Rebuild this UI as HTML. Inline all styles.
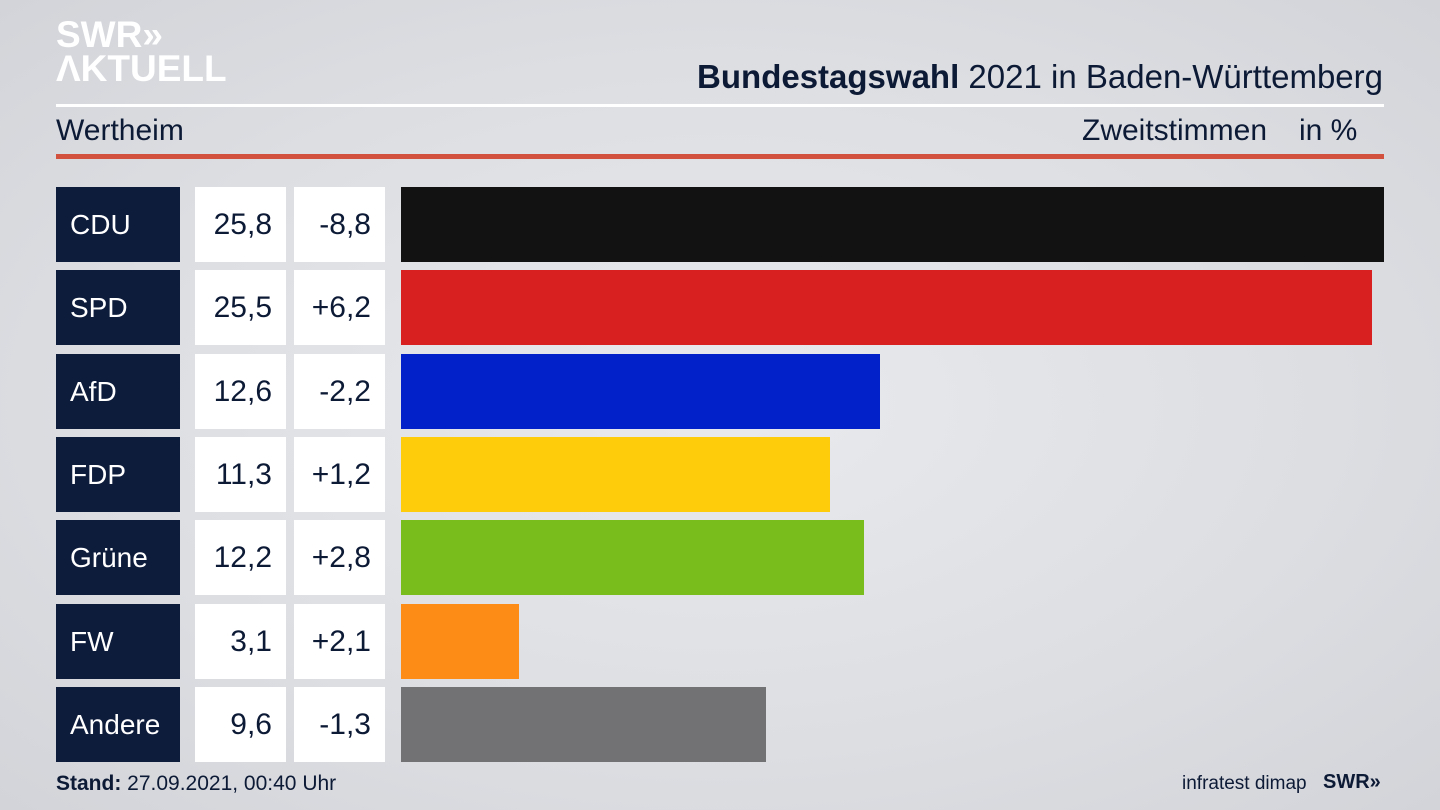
<!DOCTYPE html>
<html><head><meta charset="utf-8"><style>
body{margin:0;width:1440px;height:810px;overflow:hidden;position:relative;font-family:"Liberation Sans","DejaVu Sans",sans-serif;
background:radial-gradient(ellipse at 50% 50%,#e9eaed 0%,#dcdee2 60%,#d2d4d9 100%);color:#0d1a36}
.a{position:absolute}
.logo{color:#fff;font-weight:bold;font-size:37px;line-height:34px;letter-spacing:0px}
.p{background:#0e1c3c;color:#fff;font-size:28px;height:75px;line-height:75px;padding-left:14px;box-sizing:border-box;width:124px;left:56px}
.v{background:#fff;font-size:30px;height:75px;line-height:75px;text-align:right;box-sizing:border-box;padding-right:14px;color:#0d1a36}
.b{height:75px;left:401px}
</style></head><body>
<div class="a logo" style="left:56px;top:18px">SWR»<br>ΛKTUELL</div>
<div class="a" style="right:57px;top:58px;font-size:33px"><b>Bundestagswahl</b> 2021 in Baden-Württemberg</div>
<div class="a" style="left:56px;top:104px;width:1328px;height:3px;background:#fff"></div>
<div class="a" style="left:56px;top:114px;font-size:30px">Wertheim</div>
<div class="a" style="left:1082px;top:114px;font-size:30px">Zweitstimmen</div>
<div class="a" style="left:1299px;top:114px;font-size:30px">in %</div>
<div class="a" style="left:56px;top:154px;width:1328px;height:5px;background:#d2503e"></div>

<div class="a p" style="top:187px">CDU</div><div class="a v" style="top:187px;left:195px;width:91px">25,8</div><div class="a v" style="top:187px;left:294px;width:91px">-8,8</div><div class="a b" style="top:187px;width:983px;background:#121212"></div>
<div class="a p" style="top:270px">SPD</div><div class="a v" style="top:270px;left:195px;width:91px">25,5</div><div class="a v" style="top:270px;left:294px;width:91px">+6,2</div><div class="a b" style="top:270px;width:971px;background:#d92020"></div>
<div class="a p" style="top:354px">AfD</div><div class="a v" style="top:354px;left:195px;width:91px">12,6</div><div class="a v" style="top:354px;left:294px;width:91px">-2,2</div><div class="a b" style="top:354px;width:479px;background:#0221c9"></div>
<div class="a p" style="top:437px">FDP</div><div class="a v" style="top:437px;left:195px;width:91px">11,3</div><div class="a v" style="top:437px;left:294px;width:91px">+1,2</div><div class="a b" style="top:437px;width:429px;background:#fecc0a"></div>
<div class="a p" style="top:520px">Grüne</div><div class="a v" style="top:520px;left:195px;width:91px">12,2</div><div class="a v" style="top:520px;left:294px;width:91px">+2,8</div><div class="a b" style="top:520px;width:463px;background:#79bd1c"></div>
<div class="a p" style="top:604px">FW</div><div class="a v" style="top:604px;left:195px;width:91px">3,1</div><div class="a v" style="top:604px;left:294px;width:91px">+2,1</div><div class="a b" style="top:604px;width:118px;background:#fd8c16"></div>
<div class="a p" style="top:687px">Andere</div><div class="a v" style="top:687px;left:195px;width:91px">9,6</div><div class="a v" style="top:687px;left:294px;width:91px">-1,3</div><div class="a b" style="top:687px;width:365px;background:#727274"></div>

<div class="a" style="left:56px;top:772px;font-size:21px"><b>Stand:</b> 27.09.2021, 00:40 Uhr</div>
<div class="a" style="left:1182px;top:773px;font-size:19px">infratest dimap</div>
<div class="a" style="left:1323px;top:771px;font-size:20px;font-weight:bold">SWR»</div>
</body></html>
